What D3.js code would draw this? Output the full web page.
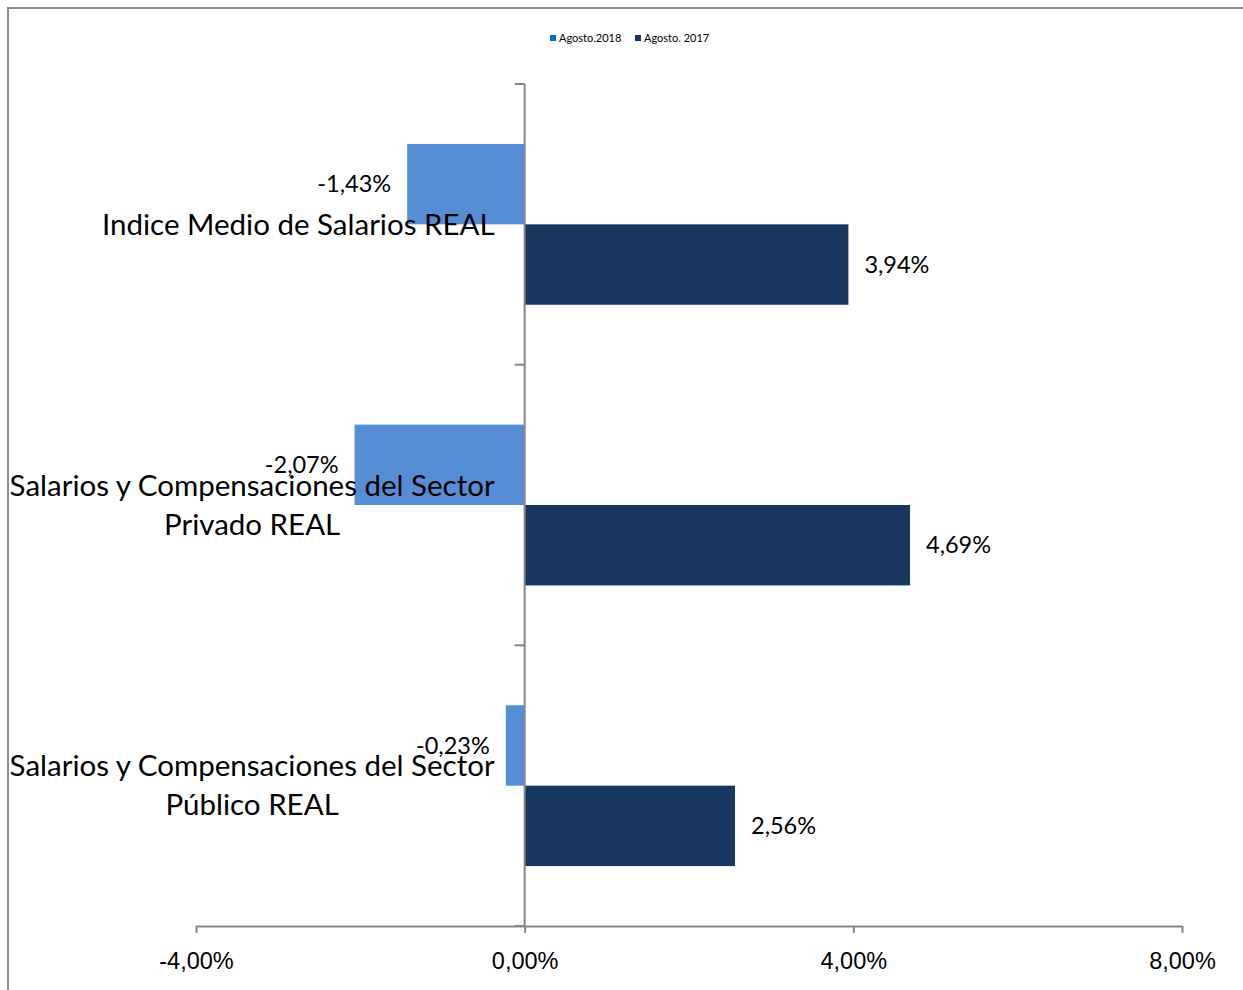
<!DOCTYPE html>
<html>
<head>
<meta charset="utf-8">
<script src="https://cdn.jsdelivr.net/npm/d3@7"></script>
<style>
  body { margin: 0; background: #fff; }
  svg { display: block; font-family: Lato, "Open Sans", sans-serif; }
</style>
</head>
<body>
<svg id="chart" width="1243" height="990"></svg>
<script>
// data
var categories = [
  ["Indice Medio de Salarios REAL"],
  ["Salarios y Compensaciones del Sector", "Privado REAL"],
  ["Salarios y Compensaciones del Sector", "Público REAL"]
];
var seriesNames = ["Agosto.2018", "Agosto. 2017"];
var values2018 = [-1.43, -2.07, -0.23];
var values2017 = [3.94, 4.69, 2.56];
var xTicks = [-4, 0, 4, 8];

var barColors = ["#558ED5", "#17375E"];
var legendColors = ["#0070C0", "#17375E"];

var locale = d3.formatLocale({decimal: ",", thousands: ".", grouping: [3], currency: ["", ""], minus: "-"});
var pct = v => locale.format(".2f")(v) + "%";

var svg = d3.select("#chart");

// outer frame (top and left edge only are visible)
svg.append("path")
  .attr("d", "M8,990 V8 H1243")
  .attr("fill", "none")
  .attr("stroke", "#8c8c8c")
  .attr("stroke-width", 2);

var x = d3.scaleLinear().domain([-4, 8]).range([196, 1182]);
var catKeys = categories.map((c, i) => i);
var y0 = d3.scaleBand().domain(catKeys).range([84, 926])
  .paddingInner(0.427).paddingOuter(0.2135);
var y1 = d3.scaleBand().domain([0, 1]).range([0, y0.bandwidth()]);

var rows = catKeys.map(i => ({cat: i, vals: [values2018[i], values2017[i]]}));

// bars
var groups = svg.append("g").selectAll("g")
  .data(rows).join("g")
  .attr("transform", d => "translate(0," + y0(d.cat) + ")");

groups.selectAll("rect")
  .data(d => d.vals.map((v, s) => ({v: v, s: s})))
  .join("rect")
  .attr("x", d => x(Math.min(0, d.v)))
  .attr("width", d => Math.abs(x(d.v) - x(0)))
  .attr("y", d => y1(d.s))
  .attr("height", y1.bandwidth())
  .attr("fill", d => barColors[d.s]);

// x axis
var xAxis = svg.append("g")
  .attr("transform", "translate(0,926)")
  .call(d3.axisBottom(x).tickValues(xTicks).tickSize(7).tickSizeOuter(0).tickFormat(pct));
xAxis.selectAll("path, line").attr("stroke", "#868686").attr("stroke-width", 2);
xAxis.selectAll("text")
  .attr("y", 26)
  .attr("fill", "#000")
  .style("font-size", "23.5px");

// y axis at zero, ticks at category boundaries
var yAxis = svg.append("g");
yAxis.append("line")
  .attr("x1", x(0)).attr("x2", x(0))
  .attr("y1", y0.range()[0]).attr("y2", y0.range()[1])
  .attr("stroke", "#868686").attr("stroke-width", 2);
yAxis.selectAll("line.tick")
  .data(d3.range(categories.length + 1))
  .join("line")
  .attr("class", "tick")
  .attr("x1", x(0) - 10).attr("x2", x(0))
  .attr("y1", i => y0.range()[0] + i * y0.step())
  .attr("y2", i => y0.range()[0] + i * y0.step())
  .attr("stroke", "#868686").attr("stroke-width", 2);

// value labels
groups.selectAll("text.val")
  .data(d => d.vals.map((v, s) => ({v: v, s: s})))
  .join("text")
  .attr("class", "val")
  .attr("x", d => d.v < 0 ? x(d.v) - 16 : x(d.v) + 16)
  .attr("y", d => y1(d.s) + y1.bandwidth() / 2)
  .attr("dy", "0.35em")
  .attr("text-anchor", d => d.v < 0 ? "end" : "start")
  .style("font-size", "23.5px")
  .attr("fill", "#000")
  .text(d => pct(d.v));

// category labels, centred lines, right edge 30px left of axis
var labelRight = x(0) - 30;
var lineGap = 39;
categories.forEach((lines, i) => {
  var cy = y0(i) + y0.bandwidth() / 2;
  var t = svg.append("text")
    .style("font-size", "29.5px")
    .attr("fill", "#000")
    .attr("text-anchor", "middle");
  var spans = lines.map((l, k) => t.append("tspan")
    .attr("y", cy + (k - (lines.length - 1) / 2) * lineGap)
    .attr("dy", "0.35em")
    .text(l));
  var w = d3.max(spans, s => s.node().getComputedTextLength());
  spans.forEach(s => s.attr("x", labelRight - w / 2));
});

// legend
var legend = svg.append("g").attr("transform", "translate(550,38)");
var lx = [0, 85];
seriesNames.forEach((name, i) => {
  legend.append("rect")
    .attr("x", lx[i]).attr("y", -3)
    .attr("width", 6).attr("height", 6)
    .attr("fill", legendColors[i]);
  legend.append("text")
    .attr("x", lx[i] + 9).attr("y", 0)
    .attr("dy", "0.35em")
    .style("font-size", "11px")
    .attr("fill", "#000")
    .text(name);
});
</script>
</body>
</html>
